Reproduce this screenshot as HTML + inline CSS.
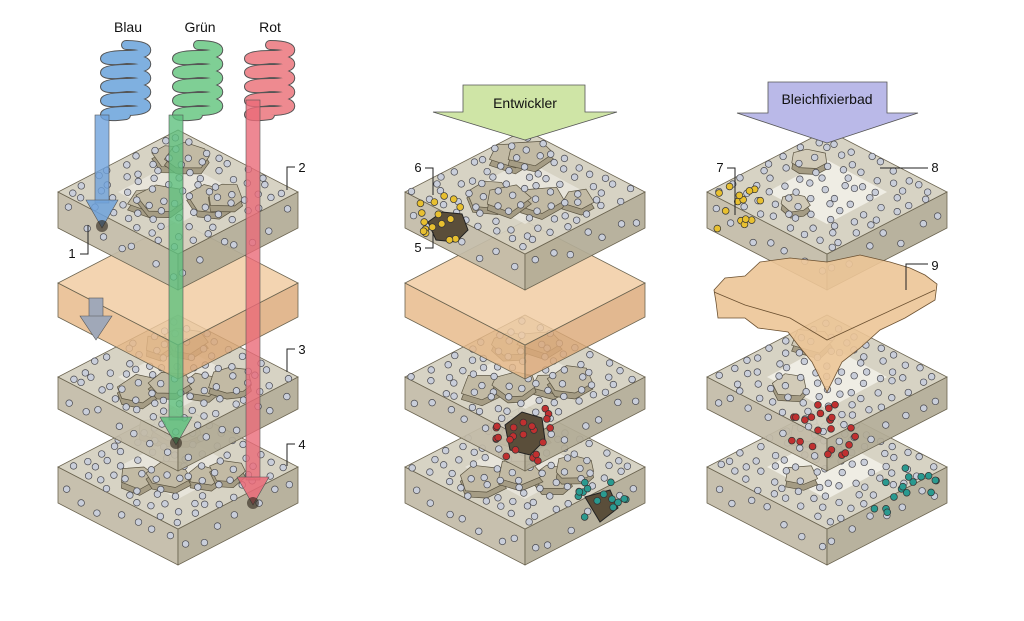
<!DOCTYPE html>
<html><head><meta charset="utf-8"><style>
html,body{margin:0;padding:0;background:#fff;width:1024px;height:621px;overflow:hidden}
svg{display:block}
text{font-family:"Liberation Sans",sans-serif}
</style></head><body>
<svg id="s" width="1024" height="621" viewBox="0 0 1024 621" xmlns="http://www.w3.org/2000/svg">
<g id="layers"></g>
<g id="over"></g>
</svg>
<script>
var NS="http://www.w3.org/2000/svg";
var L=document.getElementById('layers'),O=document.getElementById('over');
function el(p,t,a,txt){var e=document.createElementNS(NS,t);for(var k in a)e.setAttribute(k,a[k]);if(txt)e.textContent=txt;p.appendChild(e);return e;}
var seed=11;function rnd(){seed=(seed*16807)%2147483647;return seed/2147483647;}
function pts(a){return a.map(function(p){return p[0].toFixed(1)+","+p[1].toFixed(1)}).join(" ");}
var HW=120,HH=62;
function slab(g,cx,ty,t,top,side1,side2,op){
 el(g,'polygon',{points:pts([[cx-HW,ty+HH],[cx,ty+2*HH],[cx,ty+2*HH+t],[cx-HW,ty+HH+t]]),fill:side1,stroke:'#6b6450','stroke-width':0.8,'fill-opacity':op});
 el(g,'polygon',{points:pts([[cx+HW,ty+HH],[cx,ty+2*HH],[cx,ty+2*HH+t],[cx+HW,ty+HH+t]]),fill:side2,stroke:'#6b6450','stroke-width':0.8,'fill-opacity':op});
 el(g,'polygon',{points:pts([[cx,ty],[cx+HW,ty+HH],[cx,ty+2*HH],[cx-HW,ty+HH]]),fill:top,stroke:'#6b6450','stroke-width':0.8,'fill-opacity':op});
}
function iso(cx,ty,u,v){return [cx+(u-v)*HW,ty+(u+v)*HH];}
function grains(g,cx,ty,n,fill,sz){
 for(var i=0;i<n;i++){var u=0.15+((i*0.37)%1)*0.7+(rnd()-0.5)*0.1,v=0.15+((i*0.61+0.2)%1)*0.7+(rnd()-0.5)*0.1,p=iso(cx,ty,u,v);var r=(sz||14)+rnd()*6;var a=[],b=[];var k=5+Math.floor(rnd()*3);
  for(var j=0;j<k;j++){var an=j/k*6.283+rnd()*0.4;var rr=r*(0.85+rnd()*0.25);a.push([p[0]+Math.cos(an)*rr*1.25,p[1]+Math.sin(an)*rr*0.75]);}
  b=a.map(function(q){return [q[0],q[1]+6]});
  el(g,'polygon',{points:pts(b),fill:'#a59c84',stroke:'#5a5340','stroke-width':0.7});
  el(g,'polygon',{points:pts(a),fill:fill||'#c2baa4',stroke:'#5a5340','stroke-width':0.7});}
}
function dot(g,x,y){el(g,'circle',{cx:x,cy:y,r:3.3,fill:'#c9ceda',stroke:'#4a4a50','stroke-width':0.7});}
function dots(g,cx,ty,t){
 var N=9;
 for(var i=0;i<N;i++)for(var j=0;j<N;j++){var u=(i+0.5+(rnd()-0.5)*0.6)/N,v=(j+0.5+(rnd()-0.5)*0.6)/N;var p=iso(cx,ty,u,v);dot(g,p[0],p[1]);}
 for(var i=0;i<7;i++){var u=(i+0.5+(rnd()-0.5)*0.5)/7;var p=iso(cx,ty,u,1);dot(g,p[0],p[1]+8+rnd()*(t-16));
  p=iso(cx,ty,1,u);dot(g,p[0],p[1]+8+rnd()*(t-16));}
}
function cluster(g,x,y,w,h,n,col){for(var i=0;i<n;i++){el(g,'circle',{cx:x+(rnd()-0.5)*w,cy:y+(rnd()-0.5)*h,r:3.4,fill:col,stroke:'#333','stroke-width':0.7});}}
var Y=[130,221,315,405],T=[36,34,32,36];
var C=[178,525,827];
for(var c=0;c<3;c++){
 var cx=C[c];
 for(var s=3;s>=0;s--){
  var g=el(L,'g',{});
  if(s==1){
   if(c<2) slab(g,cx,Y[s],T[s],'#f0cba0','#e6b888','#dca878',0.82);
   continue;}
  slab(g,cx,Y[s],T[s],'#d4cfbf','#c2bba7','#b2ab96',0.92);
  el(g,'polygon',{points:pts([[cx,Y[s]+30],[cx+60,Y[s]+62],[cx,Y[s]+94],[cx-60,Y[s]+62]]),fill:'#f7f5ef','fill-opacity':c==2?0.75:0.5});
  if(c<2)grains(g,cx,Y[s],6);else grains(g,cx,Y[s],2,'#d2cbb8',11);
  dots(g,cx,Y[s],T[s]);
 }
}
// col3 torn orange layer
var og=el(L,'g',{});
el(og,'path',{d:"M714,290 L725,278 L745,276 L760,262 L790,258 L827,262 L860,255 L890,262 L910,268 L925,275 L937,284 L935,300 L905,318 L880,330 L860,348 L842,362 L827,392 L812,362 L798,345 L788,332 L758,328 L745,318 L718,318 L716,302 Z",fill:'#ecc597',stroke:'#6b5030','stroke-width':0.8,'fill-opacity':0.9});
el(og,'path',{d:"M714,292 L745,305 L790,318 L827,340 L870,320 L935,290",fill:'none',stroke:'#6b5030','stroke-width':0.8});
var ov=O;
el(ov,'polygon',{points:"428,222 442,212 462,214 468,230 456,242 436,240",fill:'#5a4e3a',stroke:'#222'});
el(ov,'polygon',{points:"505,425 522,412 542,418 545,440 530,455 510,450",fill:'#5a4e3a',stroke:'#222'});
el(ov,'polygon',{points:"585,497 610,490 618,508 600,522",fill:'#5a4e3a',stroke:'#222'});
cluster(ov,440,215,45,50,16,'#e8c030');
cluster(ov,525,435,65,55,22,'#c03030');
cluster(ov,600,500,60,40,14,'#2a9a90');
cluster(ov,740,205,50,50,14,'#e8c030');
cluster(ov,825,430,70,55,22,'#c03030');
cluster(ov,905,490,65,45,16,'#2a9a90');
function warrow(x,y1,y2,col){
 el(ov,'rect',{x:x-7,y:y1,width:14,height:y2-y1-25,fill:col,'fill-opacity':0.8,stroke:'#555','stroke-width':0.6});
 el(ov,'polygon',{points:pts([[x-16,y2-28],[x+16,y2-28],[x,y2]]),fill:col,'fill-opacity':0.85,stroke:'#555','stroke-width':0.6});
 el(ov,'circle',{cx:x,cy:y2-2,r:6,fill:'#2a2218','fill-opacity':0.6});
}
function coil(x,y,col){var d="M"+(x+8)+","+y;for(var i=0;i<5;i++){d+=" C"+(x+35)+","+(y+i*14)+" "+(x+35)+","+(y+i*14+10)+" "+(x+8)+","+(y+i*14+10)+" C"+(x-20)+","+(y+i*14+10)+" "+(x-20)+","+(y+i*14+18)+" "+(x+8)+","+(y+i*14+14);}
 el(ov,'path',{d:d,fill:'none',stroke:'#555','stroke-width':10,'stroke-linecap':'round'});
 el(ov,'path',{d:d,fill:'none',stroke:col,'stroke-width':8,'stroke-linecap':'round'});}
coil(118,45,'#7fb0e0');coil(190,45,'#7fcf95');coil(262,45,'#ee8a90');
el(ov,'rect',{x:89,y:298,width:14,height:20,fill:'#a0a8b8',stroke:'#555','stroke-width':0.6});
el(ov,'polygon',{points:"80,316 112,316 96,340",fill:'#a0a8b8',stroke:'#555','stroke-width':0.6});
warrow(102,115,228,'#6fa2dc');
warrow(176,115,445,'#5fc07e');
warrow(253,100,505,'#ea6a78');
function t(x,y,s,sz,anc){el(ov,'text',{x:x,y:y,'font-size':sz||14,'text-anchor':anc||'middle',fill:'#111'},s);}
t(128,32,'Blau',14);t(200,32,'Grün',14);t(270,32,'Rot',14);
el(ov,'polygon',{points:"463,85 585,85 585,112 617,112 525,140 433,112 463,112",fill:'#cfe5a6',stroke:'#555','stroke-width':0.8});
t(525,108,'Entwickler',14);
el(ov,'polygon',{points:"768,82 887,82 887,113 918,113 827,143 737,113 768,113",fill:'#bab9e8',stroke:'#555','stroke-width':0.8});
t(827,104,'Bleichfixierbad',14);
function lead(d){el(ov,'path',{d:d,fill:'none',stroke:'#222','stroke-width':1});}
t(72,258,'1',13);lead("M80,254 L88,254 L88,225");
t(302,172,'2',13);lead("M295,167 L287,167 L287,190");
t(302,354,'3',13);lead("M295,349 L287,349 L287,372");
t(302,449,'4',13);lead("M295,444 L287,444 L287,466");
t(418,252,'5',13);lead("M425,248 L433,248 L433,232");
t(418,172,'6',13);lead("M425,168 L433,168 L433,195");
t(720,172,'7',13);lead("M727,168 L735,168 L735,215");
t(935,172,'8',13);lead("M928,168 L880,168");
t(935,270,'9',13);lead("M928,264 L906,264 L906,290");
</script>
</body></html>
